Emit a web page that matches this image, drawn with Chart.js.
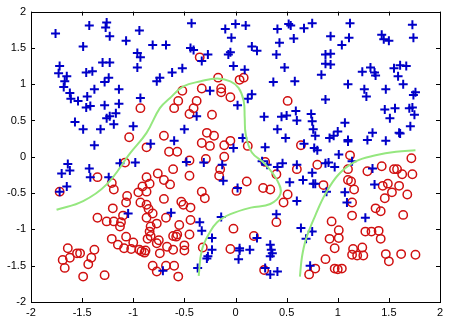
<!DOCTYPE html>
<html><head><meta charset="utf-8">
<script src="https://cdn.jsdelivr.net/npm/chart.js@4/dist/chart.umd.min.js"></script>
<style>html,body{margin:0;padding:0;background:#fff;} #wrap{width:450px;height:324px;}</style>
</head><body><div id="wrap"><canvas id="c" width="450" height="324"></canvas></div>
<script>
const xTickValues = [-2,-1.5,-1,-0.5,0,0.5,1,1.5,2];
const yTickValues = [-2,-1.5,-1,-0.5,0,0.5,1,1.5,2];

const bluePlus = [
[-1.76,1.70],[-1.43,1.81],[-1.26,1.85],[-1.27,1.78],[-1.23,1.66],[-0.94,1.74],[-1.07,1.60],[-1.49,1.52],[-0.81,1.54],[-0.68,1.54],[-0.96,1.43],[-0.93,1.37],[-1.72,1.25],[-1.73,1.15],[-1.65,1.11],[-1.67,1.04],[-1.68,0.96],[-1.46,1.16],[-1.40,1.18],[-1.30,1.30],[-1.23,1.30],[-0.96,1.23],[-1.24,1.09],[-1.28,1.03],[-1.38,0.93],[-1.14,0.93],[-1.62,0.88],[-1.61,0.80],[-1.54,0.77],[-1.45,0.83],[-1.46,0.68],[-1.42,0.70],[-1.28,0.71],[-1.14,0.73],[-1.17,0.60],[-1.23,0.56],[-1.26,0.53],[-0.93,0.81],[-0.77,1.04],[-0.74,1.09],[-0.62,1.16],[-1.57,0.48],[-1.49,0.38],[-1.32,0.38],[-1.19,0.45],[-1.00,0.42],[-1.38,0.16],[-0.83,0.18],
[-0.43,1.84],[-0.10,1.76],[0.00,1.83],[0.10,1.81],[-0.04,1.64],[0.41,1.76],[0.52,1.83],[0.54,1.81],[0.67,1.77],[0.75,1.84],[0.57,1.63],[0.43,1.57],[-0.44,1.50],[-0.41,1.47],[-0.27,1.41],[-0.33,1.32],[-0.07,1.41],[-0.05,1.44],[0.16,1.52],[0.21,1.46],[0.40,1.41],[-0.52,1.22],[-0.02,1.25],[0.09,1.20],[0.48,1.23],[0.37,1.03],[0.58,1.04],[-0.25,0.91],[0.16,0.86],[0.12,0.80],[0.02,0.71],[-0.38,0.56],[0.28,0.55],[0.45,0.55],[0.50,0.57],[0.59,0.63],[0.60,0.50],[0.74,0.59],[0.75,0.49],[-0.50,0.38],[0.41,0.38],[0.49,0.26],[-0.60,0.22],[0.07,0.26],[-0.02,0.12],[0.29,0.13],[0.67,0.18],[0.77,0.12],
[1.12,1.84],[1.73,1.82],[1.74,1.64],[0.93,1.66],[1.11,1.64],[1.04,1.54],[1.43,1.68],[1.45,1.62],[1.50,1.60],[0.88,1.41],[0.93,1.42],[0.88,1.28],[0.93,1.27],[0.84,1.13],[1.24,1.17],[1.32,1.23],[1.37,1.12],[1.36,1.16],[1.55,1.22],[1.61,1.26],[1.67,1.25],[1.59,1.11],[1.64,1.00],[1.10,1.00],[1.26,0.93],[1.28,0.83],[1.47,0.93],[1.76,0.89],[1.74,0.85],[0.88,0.79],[1.73,0.68],[1.70,0.67],[1.75,0.58],[1.46,0.65],[1.56,0.67],[1.51,0.53],[1.07,0.47],[1.71,0.42],[0.76,0.38],[0.78,0.29],[1.00,0.35],[0.96,0.29],[0.92,0.26],[1.10,0.23],[1.10,0.21],[1.29,0.23],[1.34,0.33],[1.47,0.22],[1.60,0.33],[1.61,0.32],[0.80,0.09],[1.01,0.03],
[-1.64,-0.10],[-1.70,-0.23],[-1.62,-0.19],[-1.43,-0.16],[-1.42,-0.28],[-1.24,-0.28],[-1.13,-0.09],[-0.98,-0.08],[-1.65,-0.41],[-1.05,-0.78],[-0.63,-0.77],[-0.71,-1.57],[-1.72,-0.48],
[-0.48,-0.07],[-0.31,-0.08],[-0.13,-0.11],[-0.12,-0.33],[0.02,-0.43],[0.26,-0.06],[0.31,-0.11],[0.41,-0.14],[0.46,-0.09],[0.60,-0.11],[0.53,-0.35],[0.66,-0.32],[0.76,-0.37],[0.60,-0.61],[0.40,-0.79],[-0.14,-0.83],[-0.35,-0.90],[-0.33,-1.02],[-0.23,-1.12],[-0.23,-1.28],[-0.27,-1.37],[-0.28,-1.40],[-0.37,-1.53],[0.04,-1.26],[0.04,-1.29],[0.03,-1.41],[0.14,-1.28],[0.21,-1.12],[0.34,-1.21],[0.35,-1.28],[0.34,-1.37],[0.36,-1.33],[0.34,-1.62],[0.41,-1.58],[0.29,-1.53],[0.64,-0.98],[0.69,-1.13],[0.75,-1.03],
[0.88,-0.09],[0.91,-0.08],[0.97,-0.14],[1.14,-0.06],[0.75,-0.22],[0.78,-0.37],[0.89,-0.48],[1.07,-0.49],[1.09,-0.63],[1.34,-0.16],[1.36,-0.38],[1.27,-0.84],[0.73,-1.50]
];

const redCircle = [
[-0.93,0.67],[-1.04,0.27],[-0.87,0.13],[-0.70,0.29],[-0.65,0.07],[-0.60,0.67],
[-0.35,1.37],[-0.17,1.09],[0.04,1.06],[0.08,1.09],[-0.52,0.91],[-0.33,0.94],[-0.14,0.94],[-0.14,0.89],[-0.05,0.82],[-0.56,0.77],[-0.38,0.77],[-0.41,0.67],[-0.45,0.59],[-0.23,0.58],[0.51,0.77],[-0.28,0.33],[-0.21,0.29],[-0.33,0.19],[-0.25,0.15],[-0.11,0.16],[-0.05,0.22],[0.12,0.15],[0.64,0.16],[-0.57,0.07],
[-1.72,-0.48],[-1.35,-0.28],[-1.08,-0.08],[-1.21,-0.36],[-1.19,-0.45],[-1.06,-0.54],[-1.07,-0.63],[-1.20,-0.71],[-1.10,-0.81],[-1.35,-0.84],[-1.26,-0.89],[-1.19,-0.89],[-1.12,-0.90],[-1.13,-0.96],[-1.21,-1.13],[-1.15,-1.21],[-1.09,-1.26],[-1.07,-1.10],[-1.02,-1.27],[-1.00,-1.18],[-0.94,-1.28],[-0.92,-1.30],[-0.89,-1.32],[-0.88,-1.29],[-0.93,-0.63],[-0.95,-0.49],[-0.91,-0.41],[-0.87,-0.48],[-0.87,-0.28],[-0.84,-0.37],[-0.76,-0.23],[-0.70,-0.32],[-0.64,-0.38],[-0.61,-0.17],[-0.70,-0.58],[-0.87,-0.66],[-0.85,-0.72],[-0.81,-0.78],[-0.87,-0.84],[-0.77,-0.92],[-0.68,-0.84],[-0.83,-0.96],[-0.84,-1.03],[-0.83,-1.09],[-0.75,-1.15],[-0.77,-1.19],[-0.86,-1.13],[-0.67,-1.24],[-0.74,-1.33],[-0.61,-1.09],[-0.81,-1.50],[-0.77,-1.58],[-0.68,-1.50],[-0.60,-1.50],[-1.64,-1.26],[-1.69,-1.42],[-1.62,-1.39],[-1.67,-1.53],[-1.55,-1.33],[-1.52,-1.33],[-1.38,-1.28],[-1.41,-1.39],[-1.44,-1.48],[-1.49,-1.65],[-1.28,-1.63],
[-0.45,-0.05],[-0.29,-0.03],[-0.11,0.00],[-0.15,-0.17],[-0.16,-0.26],[-0.45,-0.26],[-0.33,-0.48],[-0.30,-0.57],[0.11,-0.34],[0.01,-0.47],[0.29,-0.07],[0.40,-0.24],[0.27,-0.43],[0.34,-0.45],[0.51,-0.52],[0.47,-0.63],[0.60,-0.17],[-0.53,-0.62],[-0.51,-0.66],[-0.44,-0.70],[-0.44,-0.87],[-0.55,-0.94],[-0.57,-1.07],[-0.58,-1.10],[-0.45,-1.07],[-0.50,-1.22],[-0.50,-1.29],[-0.61,-1.28],[-0.56,-1.65],[-0.32,-1.25],[-0.05,-1.27],[-0.02,-0.99],[0.18,-1.09],[0.40,-0.90],[0.28,-1.56],[0.72,-1.62],
[1.12,0.02],[0.80,-0.11],[1.10,-0.17],[1.10,-0.32],[1.13,-0.34],[1.16,-0.45],[1.14,-0.63],[0.86,-0.39],[1.29,-0.20],[1.43,-0.13],[1.55,-0.17],[1.58,-0.17],[1.63,-0.24],[1.73,-0.24],[1.72,-0.02],[1.44,-0.40],[1.49,-0.37],[1.60,-0.40],[1.53,-0.49],[1.46,-0.57],[1.68,-0.52],[1.14,-0.81],[1.37,-0.71],[1.42,-0.75],[1.64,-0.80],[0.94,-0.89],[1.01,-1.01],[1.27,-1.03],[1.33,-1.03],[1.40,-1.02],[1.42,-1.13],[0.92,-1.13],[1.01,-1.12],[0.97,-1.26],[1.15,-1.27],[1.24,-1.25],[1.14,-1.35],[1.19,-1.36],[1.25,-1.36],[1.47,-1.34],[1.50,-1.44],[1.62,-1.34],[1.76,-1.35],[0.88,-1.41],[0.78,-1.54],[0.97,-1.54],[1.00,-1.55],[1.04,-1.54]
];

const boundaryLeft = [[-1.75,-0.73],[-1.49,-0.61],[-1.26,-0.38],[-1.03,0.05],[-0.87,0.33],[-0.74,0.67],[-0.64,0.81],[-0.51,0.97],[-0.34,1.04],[-0.18,1.08],[-0.05,1.04],[0.03,0.95],[0.08,0.77],[0.09,0.54],[0.10,0.31],[0.16,0.06],[0.29,-0.10],[0.41,-0.33],[0.44,-0.51],[0.34,-0.65],[0.15,-0.70],[-0.05,-0.79],[-0.18,-0.90],[-0.26,-1.06],[-0.33,-1.29],[-0.36,-1.64]];
const boundaryRight = [[0.63,-1.65],[0.65,-1.38],[0.69,-1.13],[0.78,-0.81],[0.88,-0.51],[1.01,-0.24],[1.18,-0.06],[1.37,0.02],[1.57,0.07],[1.76,0.09]];

const toPts = a => a.map(p => ({x: p[0], y: p[1]}));

const boxPlugin = {
  id: 'box',
  afterDraw(chart) {
    const {ctx, chartArea: a, scales} = chart;
    ctx.save();
    ctx.strokeStyle = '#000';
    ctx.lineWidth = 1;
    ctx.beginPath();
    const L = 4;
    scales.x.ticks.forEach(t => {
      const px = Math.round(scales.x.getPixelForValue(t.value)) + 0.5;
      ctx.moveTo(px, a.bottom); ctx.lineTo(px, a.bottom - L);
      ctx.moveTo(px, a.top); ctx.lineTo(px, a.top + L);
    });
    scales.y.ticks.forEach(t => {
      const py = Math.round(scales.y.getPixelForValue(t.value)) + 0.5;
      ctx.moveTo(a.left, py); ctx.lineTo(a.left + L, py);
      ctx.moveTo(a.right, py); ctx.lineTo(a.right - L, py);
    });
    ctx.stroke();
    ctx.strokeRect(Math.round(a.left) + 0.5, Math.round(a.top) + 0.5, Math.round(a.right - a.left), Math.round(a.bottom - a.top));
    ctx.restore();
  }
};

const tickFont = {family: "'Liberation Sans', Arial, sans-serif", size: 11};

new Chart(document.getElementById('c'), {
  type: 'scatter',
  data: {
    datasets: [
      {data: toPts(boundaryLeft), showLine: true, borderColor: '#95e77f', borderWidth: 2, pointRadius: 0, tension: 0.4, fill: false, order: 0},
      {data: toPts(boundaryRight), showLine: true, borderColor: '#95e77f', borderWidth: 2, pointRadius: 0, tension: 0.4, fill: false, order: 0},
      {data: toPts(bluePlus), pointStyle: 'cross', pointRadius: 4.5, borderColor: '#0000c8', borderWidth: 2, order: 1},
      {data: toPts(redCircle), pointStyle: 'circle', pointRadius: 4.2, borderColor: '#d01010', backgroundColor: 'rgba(0,0,0,0)', borderWidth: 1.5, order: 2}
    ]
  },
  options: {
    responsive: false,
    animation: false,
    events: [],
    layout: {padding: {top: 10, right: 10, left: 0, bottom: 0}},
    plugins: {legend: {display: false}, tooltip: {enabled: false}},
    scales: {
      x: {
        type: 'linear', min: -2, max: 2,
        afterBuildTicks: s => { s.ticks = xTickValues.map(v => ({value: v})); },
        afterFit: s => { s.height = 22; },
        grid: {display: false, drawTicks: false},
        border: {display: false},
        ticks: {color: '#000', font: tickFont, padding: 4, maxRotation: 0, autoSkip: false, callback: v => String(v)}
      },
      y: {
        type: 'linear', min: -2, max: 2,
        afterBuildTicks: s => { s.ticks = yTickValues.map(v => ({value: v})); },
        afterFit: s => { s.width = 31; },
        grid: {display: false, drawTicks: false},
        border: {display: false},
        ticks: {color: '#000', font: tickFont, padding: 5, autoSkip: false, callback: v => String(v)}
      }
    }
  },
  plugins: [boxPlugin]
});
</script>
</body></html>
